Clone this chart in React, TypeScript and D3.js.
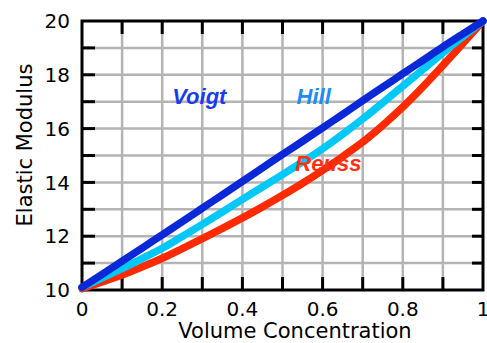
import React from "react";
import * as d3 from "d3";

const conc = [0, 0.05, 0.1, 0.15, 0.2, 0.25, 0.3, 0.35, 0.4, 0.45, 0.5, 0.55, 0.6, 0.65, 0.7, 0.75, 0.8, 0.85, 0.9, 0.95, 1.0];
const voigt = [10.1, 10.58, 11.07, 11.56, 12.05, 12.54, 13.04, 13.54, 14.04, 14.54, 15.04, 15.53, 16.03, 16.53, 17.04, 17.54, 18.04, 18.54, 19.04, 19.52, 20.0];
const hill = [10.1, 10.45, 10.8, 11.17, 11.55, 11.99, 12.44, 12.9, 13.37, 13.83, 14.29, 14.76, 15.25, 15.79, 16.36, 16.96, 17.58, 18.2, 18.82, 19.42, 20.0];
const reuss = [10.05, 10.3, 10.56, 10.86, 11.18, 11.54, 11.91, 12.29, 12.68, 13.09, 13.52, 13.97, 14.45, 14.96, 15.5, 16.12, 16.8, 17.55, 18.35, 19.17, 20.0];

const xGrid = [0.1, 0.2, 0.3, 0.4, 0.5, 0.6, 0.7, 0.8, 0.9];
const yGrid = [11, 12, 13, 14, 15, 16, 17, 18, 19];
const xLabels = [0, 0.2, 0.4, 0.6, 0.8, 1];
const yLabels = [10, 12, 14, 16, 18, 20];

const series = [
  { name: "Reuss", values: reuss, color: "#ff2a00" },
  { name: "Hill", values: hill, color: "#00c8f8" },
  { name: "Voigt", values: voigt, color: "#0a28d8" },
];

const labels = [
  { text: "Voigt", x: 0.225, y: 16.9, color: "#1a3cf0" },
  { text: "Hill", x: 0.535, y: 16.9, color: "#1e8cf8" },
  { text: "Reuss", x: 0.532, y: 14.42, color: "#ff3010" },
];

export default function App() {
  const W = 487, H = 343;
  const x = d3.scaleLinear().domain([0, 1]).range([82, 483]);
  const y = d3.scaleLinear().domain([10, 20]).range([290, 21]);
  const line = d3
    .line<number>()
    .x((_, i) => x(conc[i]))
    .y((d) => y(d))
    .curve(d3.curveCatmullRom);
  const font = "'DejaVu Sans', sans-serif";
  const tickLen = 13;
  return (
    <svg width={W} height={H} style={{ position: "absolute", left: 0, top: 0, background: "#fff" }}>
      <rect x={0} y={0} width={W} height={H} fill="#fff" />
      {xGrid.map((v) => (
        <line key={"gx" + v} x1={x(v)} x2={x(v)} y1={y(10)} y2={y(20)} stroke="#b4b4b4" strokeWidth={2.5} />
      ))}
      {yGrid.map((v) => (
        <line key={"gy" + v} x1={x(0)} x2={x(1)} y1={y(v)} y2={y(v)} stroke="#b4b4b4" strokeWidth={2.5} />
      ))}
      {xGrid.map((v) => (
        <g key={"tx" + v}>
          <line x1={x(v)} x2={x(v)} y1={y(10)} y2={y(10) - tickLen} stroke="#000" strokeWidth={3} />
          <line x1={x(v)} x2={x(v)} y1={y(20)} y2={y(20) + tickLen} stroke="#000" strokeWidth={3} />
        </g>
      ))}
      {yGrid.map((v) => (
        <g key={"ty" + v}>
          <line x1={x(0)} x2={x(0) + tickLen} y1={y(v)} y2={y(v)} stroke="#000" strokeWidth={3} />
          <line x1={x(1)} x2={x(1) - tickLen + 2} y1={y(v)} y2={y(v)} stroke="#000" strokeWidth={3} />
        </g>
      ))}
      <rect x={x(0)} y={y(20)} width={x(1) - x(0)} height={y(10) - y(20)} fill="none" stroke="#000" strokeWidth={3} />
      {series.map((s) => (
        <path key={s.name} d={line(s.values) || ""} fill="none" stroke={s.color} strokeWidth={7.5} strokeLinejoin="round" strokeLinecap="round" />
      ))}
      {xLabels.map((v) => (
        <text key={"xl" + v} x={x(v)} y={316} textAnchor="middle" fontFamily={font} fontSize={20} fill="#000">
          {String(v)}
        </text>
      ))}
      {yLabels.map((v) => (
        <text key={"yl" + v} x={70} y={y(v)} dy="0.36em" textAnchor="end" fontFamily={font} fontSize={20} fill="#000">
          {String(v)}
        </text>
      ))}
      <text x={295} y={338} textAnchor="middle" fontFamily={font} fontSize={21} fill="#000">
        Volume Concentration
      </text>
      <text transform="translate(32,145) rotate(-90)" textAnchor="middle" fontFamily={font} fontSize={21} fill="#000">
        Elastic Modulus
      </text>
      {labels.map((l) => (
        <text key={l.text} x={x(l.x)} y={y(l.y)} fontFamily="'Liberation Sans', Arial, sans-serif" fontWeight="bold" fontStyle="italic" fontSize={22} fill={l.color}>
          {l.text}
        </text>
      ))}
    </svg>
  );
}
